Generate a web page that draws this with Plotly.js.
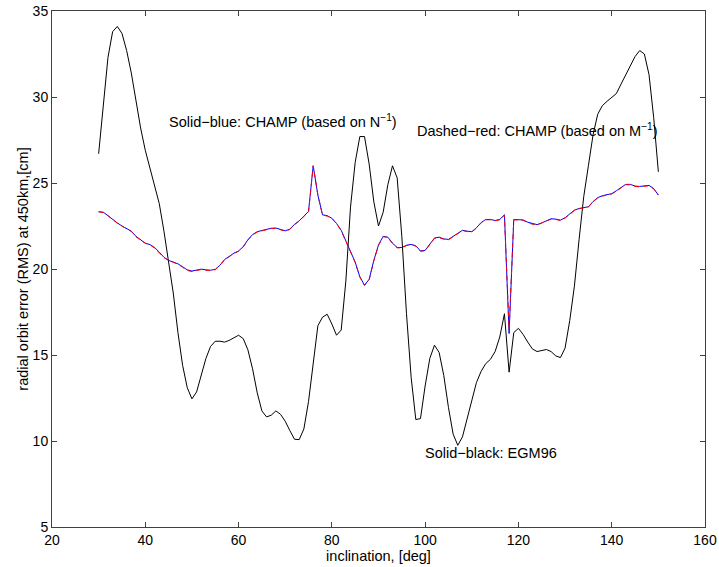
<!DOCTYPE html>
<html>
<head>
<meta charset="utf-8">
<script src="https://cdn.plot.ly/plotly-3.0.1.min.js"></script>
<style>
html,body{margin:0;padding:0;background:#fff;}
#chart{width:719px;height:567px;}
</style>
</head>
<body>
<div id="chart"></div>
<script>
// inclination, [deg]
var inclination = [30,31,32,33,34,35,36,37,38,39,40,41,42,43,44,45,46,47,48,49,50,51,52,53,54,55,56,57,58,59,60,61,62,63,64,65,66,67,68,69,70,71,72,73,74,75,76,77,78,79,80,81,82,83,84,85,86,87,88,89,90,91,92,93,94,95,96,97,98,99,100,101,102,103,104,105,106,107,108,109,110,111,112,113,114,115,116,117,118,119,120,121,122,123,124,125,126,127,128,129,130,131,132,133,134,135,136,137,138,139,140,141,142,143,144,145,146,147,148,149,150];

// Solid-black: EGM96
var egm96 = [26.7,29.4,32.3,33.8,34.1,33.7,32.7,31.4,29.8,28.2,26.9,25.85,24.9,23.8,22.2,20.5,18.6,16.3,14.4,13.1,12.45,12.85,13.9,14.8,15.5,15.8,15.8,15.75,15.85,16.0,16.15,15.95,15.3,14.2,12.8,11.75,11.4,11.5,11.75,11.55,11.15,10.6,10.1,10.08,10.7,12.3,14.6,16.7,17.2,17.37,16.8,16.15,16.45,19.3,23.6,26.2,27.7,27.7,26.1,23.9,22.5,23.3,24.9,26.0,25.3,21.9,17.4,13.7,11.25,11.3,13.2,14.8,15.57,15.15,13.8,11.95,10.4,9.75,10.24,11.3,12.45,13.4,14.05,14.5,14.75,15.2,16.05,17.4,14.0,16.3,16.55,16.2,15.75,15.35,15.2,15.25,15.32,15.2,14.95,14.85,15.4,17.0,19.0,21.7,24.2,26.0,27.8,29.0,29.5,29.75,29.95,30.2,30.75,31.3,31.85,32.35,32.7,32.5,31.3,28.8,25.65];

// Solid-blue: CHAMP (based on N^-1)
var champN = [23.33,23.3,23.1,22.88,22.68,22.5,22.35,22.2,21.9,21.68,21.5,21.42,21.25,20.98,20.68,20.5,20.42,20.3,20.13,19.95,19.88,19.95,19.99,19.95,19.93,19.98,20.22,20.55,20.75,20.92,21.05,21.3,21.7,22.0,22.17,22.25,22.3,22.37,22.38,22.3,22.22,22.32,22.6,22.8,23.05,23.35,26.0,24.3,23.15,23.1,22.95,22.65,22.25,21.65,21.1,20.4,19.55,19.06,19.4,20.5,21.4,21.9,21.85,21.5,21.25,21.25,21.38,21.43,21.35,21.05,21.08,21.45,21.8,21.85,21.75,21.72,21.9,22.1,22.25,22.2,22.17,22.4,22.7,22.88,22.88,22.82,22.88,23.15,16.25,22.88,22.88,22.85,22.72,22.63,22.58,22.68,22.82,22.92,22.9,22.84,22.98,23.2,23.42,23.52,23.55,23.62,23.92,24.15,24.26,24.3,24.38,24.55,24.75,24.92,24.92,24.82,24.8,24.85,24.86,24.68,24.3];

// Dashed-red: CHAMP (based on M^-1)
var champM = [23.33,23.28,23.1,22.86,22.66,22.5,22.33,22.18,21.88,21.66,21.5,21.4,21.22,20.96,20.66,20.5,20.4,20.28,20.1,19.92,19.85,19.93,19.97,19.93,19.9,19.96,20.2,20.53,20.73,20.9,21.03,21.28,21.68,21.98,22.15,22.23,22.28,22.35,22.36,22.28,22.2,22.3,22.58,22.78,23.03,23.33,26.0,24.3,23.13,23.08,22.93,22.63,22.23,21.63,21.08,20.38,19.53,19.04,19.38,20.48,21.38,21.88,21.83,21.48,21.23,21.23,21.36,21.41,21.33,21.03,21.06,21.43,21.78,21.83,21.73,21.7,21.88,22.08,22.23,22.18,22.15,22.38,22.68,22.86,22.86,22.8,22.86,23.13,16.5,22.86,22.86,22.83,22.7,22.6,22.56,22.66,22.8,22.9,22.88,22.82,22.96,23.18,23.4,23.5,23.53,23.6,23.9,24.13,24.24,24.28,24.36,24.53,24.73,24.9,24.9,24.8,24.78,24.83,24.84,24.66,24.3];

var xTicks = [20,40,60,80,100,120,140,160];
var yTicks = [5,10,15,20,25,30,35];

var FONT = 'Liberation Sans, Arial, Helvetica, sans-serif';
var TICK_SIZE = 14;
var TEXT_SIZE = 14.5;

var traces = [
  {x: inclination, y: egm96, type: 'scatter', mode: 'lines',
   line: {color: '#000000', width: 1}, name: 'EGM96'},
  {x: inclination, y: champN, type: 'scatter', mode: 'lines',
   line: {color: '#0000ff', width: 1}, name: 'CHAMP N'},
  {x: inclination, y: champM, type: 'scatter', mode: 'lines',
   line: {color: '#ff0000', width: 1, dash: '5px,4px'}, name: 'CHAMP M'}
];

var axisCommon = {
  showgrid: false, zeroline: false,
  showline: true, linecolor: '#404040', linewidth: 1, mirror: 'allticks',
  ticks: 'inside', ticklen: 5, tickcolor: '#404040', tickwidth: 1,
  tickfont: {family: FONT, size: TICK_SIZE, color: '#000'}
};

var layout = {
  width: 719, height: 567,
  margin: {l: 52, r: 14, t: 11, b: 40, pad: 0},
  paper_bgcolor: '#ffffff', plot_bgcolor: '#ffffff',
  showlegend: false,
  font: {family: FONT, size: TEXT_SIZE, color: '#000'},
  xaxis: Object.assign({}, axisCommon, {
    range: [20, 160], tickmode: 'array', tickvals: xTicks,
    ticktext: xTicks.map(String),
    title: {text: 'inclination, [deg]', font: {family: FONT, size: TEXT_SIZE, color: '#000'}, standoff: 0}
  }),
  yaxis: Object.assign({}, axisCommon, {
    range: [5, 35], tickmode: 'array', tickvals: yTicks,
    ticktext: yTicks.map(String),
    title: {text: 'radial orbit error (RMS) at 450km,[cm]', font: {family: FONT, size: TEXT_SIZE, color: '#000'}, standoff: 0}
  }),
  annotations: [
    {x: 44.6, y: 28.6, xref: 'x', yref: 'y', xanchor: 'left', yanchor: 'middle', showarrow: false,
     text: 'Solid\u2212blue: CHAMP (based on N<sup>\u22121</sup>)', font: {family: FONT, size: TEXT_SIZE, color: '#000'}},
    {x: 97.8, y: 28.08, xref: 'x', yref: 'y', xanchor: 'left', yanchor: 'middle', showarrow: false,
     text: 'Dashed\u2212red: CHAMP (based on M<sup>\u22121</sup>)', font: {family: FONT, size: TEXT_SIZE, color: '#000'}},
    {x: 99.6, y: 9.3, xref: 'x', yref: 'y', xanchor: 'left', yanchor: 'middle', showarrow: false,
     text: 'Solid\u2212black: EGM96', font: {family: FONT, size: TEXT_SIZE, color: '#000'}}
  ]
};

Plotly.newPlot('chart', traces, layout, {staticPlot: true, displayModeBar: false});
</script>
</body>
</html>
